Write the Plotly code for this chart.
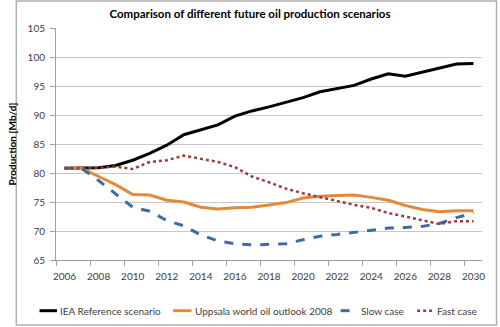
import plotly.graph_objects as go

years = list(range(2006, 2031))
iea = [80.8, 80.8, 80.9, 81.3, 82.2, 83.4, 84.8, 86.6, 87.4, 88.3, 89.8, 90.7, 91.4,
       92.2, 93.0, 94.0, 94.6, 95.1, 96.2, 97.1, 96.7, 97.4, 98.1, 98.8, 98.9]
uppsala = [80.8, 80.8, 79.4, 78.0, 76.3, 76.2, 75.3, 75.0, 74.1, 73.8, 74.0, 74.1, 74.5,
           74.9, 75.7, 76.0, 76.1, 76.2, 75.8, 75.3, 74.4, 73.7, 73.3, 73.5, 73.5]
slow = [80.8, 80.8, 78.7, 76.4, 74.1, 73.4, 71.8, 70.9, 69.3, 68.3, 67.8, 67.6, 67.7,
        67.8, 68.5, 69.1, 69.4, 69.8, 70.2, 70.5, 70.6, 70.8, 71.3, 72.3, 73.1]
fast = [80.8, 80.8, 80.9, 81.1, 80.7, 81.9, 82.2, 83.0, 82.5, 81.9, 81.0, 79.4, 78.4,
        77.3, 76.5, 75.8, 75.1, 74.5, 74.0, 73.1, 72.5, 71.8, 71.2, 71.7, 71.7]

names = ["IEA Reference scenario", "Uppsala world oil outlook 2008", "Slow case", "Fast case"]
colors = ["#000000", "#E2893A", "#3D6AA8", "#A03A3A"]
dashes = ["solid", "solid", "dash", "dot"]
widths = [3, 3, 3, 2.5]
series = [iea, uppsala, slow, fast]

title = "Comparison of different future oil production scenarios"
ytitle = "Production [Mb/d]"
xticks = list(range(2006, 2031, 2))
yticks = list(range(65, 106, 5))

FONT = "Lato"
W, H = 500, 327
L, R, T, B = 42, 18, 28, 67
pw, ph = W - L - R, H - T - B

def px(x):
    return (x - L) / pw

def py(y):
    return (H - B - y) / ph

fig = go.Figure()
for s, n, c, d, w in zip(series, names, colors, dashes, widths):
    fig.add_trace(go.Scatter(x=years, y=s, name=n, mode="lines",
                             line=dict(color=c, dash=d, width=w), showlegend=False))

fig.update_layout(
    width=W, height=H,
    margin=dict(l=L, r=R, t=T, b=B),
    paper_bgcolor="white", plot_bgcolor="white",
    font=dict(family=FONT, size=10, color="#404040"),
    title=dict(text="<b>" + title + "</b>", x=0.5, xanchor="center",
               y=1 - 14 / H, yanchor="middle",
               font=dict(family=FONT, size=11.5, color="#000000")),
    xaxis=dict(range=[2005.5, 2030.5], tickvals=xticks, ticktext=[str(v) for v in xticks],
               ticks="", showgrid=False, showline=True, linecolor="#A0A0A0", linewidth=1,
               zeroline=False, tickfont=dict(size=10, color="#404040"), ticklabelstandoff=7,
               minor=dict(tickvals=[2005.5 + 2 * k for k in range(13)], ticks="outside",
                          ticklen=5, tickcolor="#A0A0A0", showgrid=False)),
    yaxis=dict(range=[65, 105], tickvals=yticks, ticks="outside", ticklen=5,
               tickcolor="#A0A0A0", showgrid=True, gridcolor="#C8C8C8", gridwidth=1,
               showline=True, linecolor="#A0A0A0", linewidth=1, zeroline=False,
               tickfont=dict(size=10, color="#404040"), ticklabelstandoff=3,
               title=dict(text="<b>" + ytitle + "</b>", standoff=9,
                          font=dict(size=10, color="#000000"))),
)

# manual legend
leg_y = py(310.7)
leg_items = [(25, 43, 44), (163, 182, 183), (336, 353, 355), (415, 432, 433)]
for (x0, x1, tx), n, c, d, w in zip(leg_items, names, colors, dashes, widths):
    fig.add_shape(type="line", xref="paper", yref="paper", x0=px(x0), x1=px(x1),
                  y0=leg_y, y1=leg_y, line=dict(color=c, dash=d, width=w))
    fig.add_annotation(xref="paper", yref="paper", x=px(tx), y=leg_y, text=n,
                       showarrow=False, xanchor="left", yanchor="middle",
                       font=dict(size=10, color="#404040"))

# chart area border
fig.add_shape(type="rect", xref="paper", yref="paper", x0=px(1), x1=px(497),
              y0=py(325), y1=py(1), line=dict(color="#B0B0B0", width=1.5),
              fillcolor="rgba(0,0,0,0)", layer="below")

fig.write_html("out.html")
